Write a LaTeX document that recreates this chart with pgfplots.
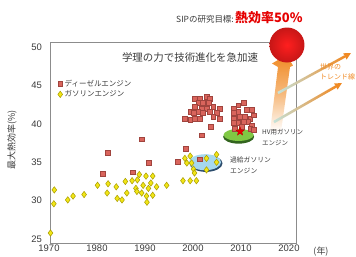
\documentclass[border=0pt]{standalone}
\usepackage{pgfplots}
\pgfplotsset{compat=1.18}
\usetikzlibrary{calc}
\usepackage{fontspec}
\setmainfont{Liberation Sans}
\newfontfamily\jp{Noto Sans CJK JP}
\definecolor{dfill}{HTML}{D9645C}
\definecolor{ddraw}{HTML}{A0443E}
\definecolor{gfill}{HTML}{F2E616}
\definecolor{gdraw}{HTML}{A89C00}
\definecolor{axgray}{HTML}{8C8C8C}
\definecolor{txt}{HTML}{3A3A3A}
\definecolor{org}{HTML}{F08A24}
\definecolor{tealish}{HTML}{C4E2DA}
\definecolor{bigred}{HTML}{D81818}
\definecolor{bluerim}{HTML}{2C4C6C}
\definecolor{bluefill}{HTML}{A6D8EF}
\definecolor{greenrim}{HTML}{32641E}
\definecolor{greenfill}{HTML}{80C844}
\pgfdeclareplotmark{fstar}{%
\pgfpathmoveto{\pgfpointpolar{90}{\pgfplotmarksize}}%
\pgfpathlineto{\pgfpointpolar{126}{0.42\pgfplotmarksize}}%
\pgfpathlineto{\pgfpointpolar{162}{\pgfplotmarksize}}%
\pgfpathlineto{\pgfpointpolar{198}{0.42\pgfplotmarksize}}%
\pgfpathlineto{\pgfpointpolar{234}{\pgfplotmarksize}}%
\pgfpathlineto{\pgfpointpolar{270}{0.42\pgfplotmarksize}}%
\pgfpathlineto{\pgfpointpolar{306}{\pgfplotmarksize}}%
\pgfpathlineto{\pgfpointpolar{342}{0.42\pgfplotmarksize}}%
\pgfpathlineto{\pgfpointpolar{18}{\pgfplotmarksize}}%
\pgfpathlineto{\pgfpointpolar{54}{0.42\pgfplotmarksize}}%
\pgfpathclose\pgfusepathqfillstroke}
\begin{document}
\begin{tikzpicture}
\begin{axis}[
  scale only axis, width=246bp, height=200bp,
  xmin=1970, xmax=2021.25, ymin=24.5, ymax=50.5,
  xtick={1970,1980,...,2020}, ytick={25,30,...,50},
  major tick length=0,
  axis line style={axgray, line width=1bp},
  /pgf/number format/assume math mode=true,
  /pgf/number format/1000 sep={},
  tick label style={font=\fontsize{9.5}{11}\selectfont, text=txt},
  yticklabel style={xshift=-4.5bp},
  xticklabel style={yshift=1.5bp, xshift=-1bp},
  legend style={draw=none, fill=none, at={(rel axis cs:0.027,0.83)}, anchor=north west,
    font=\jp\fontsize{7.5}{9}\selectfont, text=txt, row sep=-1.5bp, inner sep=1bp},
  legend cell align=left,
  clip=false,
]
% ellipses (behind)
\fill[bluerim] (axis cs:2002.5,34.85) ellipse [x radius=16.5bp, y radius=8.5bp];
\fill[bluefill] (axis cs:2002.3,35.0) ellipse [x radius=16bp, y radius=8bp];
\fill[greenrim] (axis cs:2009.3,38.3) ellipse [x radius=15.5bp, y radius=6.8bp];
\fill[greenfill] (axis cs:2009.3,38.55) ellipse [x radius=15bp, y radius=6bp];
\addplot[only marks, mark=square*, mark size=2.4bp, mark options={fill=dfill, draw=ddraw, line width=0.5bp}] coordinates {
(1981.0,33.5) (1982.0,36.2) (1987.2,33.7) (1989.1,38.0) (1990.6,34.9)
(1996.6,35.1) (1998.2,36.8) (2001.2,35.4) (2001.6,38.5) (2003.5,39.6)
(2000.2,43.3) (2001.25,43.3) (2002.6,43.5) (2003.3,43.3)
(2000.9,42.7) (2001.9,42.7) (2003.0,42.7)
(2000.2,42.2) (2001.6,42.0) (2002.6,42.0) (2004.0,42.2) (2005.4,42.0)
(1999.2,41.6) (1999.9,41.4) (2000.9,41.6) (2001.9,41.4) (2003.3,41.6) (2004.7,41.4)
(1998.1,40.7) (1999.2,40.5) (2000.2,40.7) (2001.25,40.7) (2004.0,40.9) (2005.4,40.7)
(2008.2,42.0) (2009.2,42.4) (2010.3,42.7)
(2008.2,41.4) (2009.2,41.6) (2011.0,41.8) (2012.0,41.8)
(2008.2,40.7) (2009.6,40.9) (2010.6,40.9) (2011.7,40.7) (2012.4,41.1)
(2008.2,40.1) (2009.2,40.1) (2010.3,40.3) (2011.3,40.3) (2012.0,39.8)
(2008.5,39.4) (2009.9,39.6) (2011.7,39.4) (2012.4,39.2)
};
\addlegendentry{ディーゼルエンジン}
\addplot[only marks, mark=diamond*, mark size=3.2bp, mark options={fill=gfill, draw=gdraw, line width=0.5bp}] coordinates {
(1970.1,25.8) (1970.9,31.4) (1970.8,29.6) (1973.7,30.1) (1974.8,30.6)
(1977.1,30.8) (1979.9,32.0) (1982.1,32.2) (1981.9,31.0) (1983.8,31.8)
(1984.0,30.3) (1985.0,30.1) (1985.7,32.5) (1986.0,31.0) (1987.1,32.6)
(1987.9,31.6) (1988.2,32.7) (1988.6,33.4) (1988.1,31.2) (1989.1,31.0)
(1989.4,32.0) (1990.0,33.2) (1990.1,30.6) (1990.2,29.8) (1990.5,31.6)
(1991.0,32.3) (1991.4,33.2) (1991.4,30.7) (1992.2,31.8) (1994.3,32.0)
(1997.7,32.6) (1998.1,35.5) (1998.5,34.9) (1999.2,35.8) (1999.2,32.6)
(1999.5,34.9) (1999.9,34.1) (2000.1,33.6) (2000.5,32.6) (2002.6,35.5)
(2002.6,34.0) (2004.7,36.0) (2004.7,35.0)
};
\addlegendentry{ガソリンエンジン}
\addplot[only marks, mark=fstar, mark size=4.5bp, mark options={fill=red!90!black, draw=red!70!black, line width=0.3bp}, forget plot] coordinates {(2009.6,39.0)};
\coordinate (TL) at (rel axis cs:0,1);
\end{axis}
\begin{scope}[shift={($(TL)+(-50bp,43bp)$)}, x=1bp, y=-1bp]
% fat arrow
\shade[top color=org, bottom color=white, middle color=org!60]
  (270,132) -- (278,67) -- (272,63.5) -- (286.5,55) -- (293,65.5) -- (290,67) -- (281,132) -- cycle;
% big circle
\shade[inner color=red!88!white, outer color=bigred!92!black] (287,45) circle [radius=17.5];
% thin arrows
\shade[left color=tealish, right color=org] (278.6,94.1) -- (277.4,91.9) -- (344.3,55.3) -- (345.5,57.5) -- cycle;
\fill[org] (346.6,59.5) -- (351,53) -- (343.2,53.3) -- cycle;
\shade[left color=tealish, right color=org] (274.65,123.1) -- (273.35,120.9) -- (335.25,85.4) -- (336.55,87.6) -- cycle;
\fill[org] (337.6,89.5) -- (342,83) -- (334.2,83.5) -- cycle;
% texts
\node[anchor=west, inner sep=0, font=\jp\fontsize{7}{8}\selectfont, text=org] at (320,67) {世界の};
\node[anchor=west, inner sep=0, font=\jp\fontsize{7}{8}\selectfont, text=org] at (320,77) {トレンド線};
\node[anchor=east, inner sep=0, font=\jp\fontsize{8.5}{10}\selectfont, text=txt] at (234,19) {SIPの研究目標:};
\node[anchor=west, inner sep=0, font=\jp\bfseries\fontsize{13}{15}\selectfont, text=red!90!black] at (235,18) {熱効率50\%};
\node[font=\jp\fontsize{10.5}{12}\selectfont, text=txt, inner sep=0] at (190,58) {学理の力で技術進化を急加速};
\node[anchor=west, inner sep=0, font=\jp\fontsize{6.5}{8}\selectfont, text=txt] at (262,132) {HV用ガソリン};
\node[anchor=west, inner sep=0, font=\jp\fontsize{6.5}{8}\selectfont, text=txt] at (262,143) {エンジン};
\node[anchor=west, inner sep=0, font=\jp\fontsize{6.8}{8}\selectfont, text=txt] at (230,160) {過給ガソリン};
\node[anchor=west, inner sep=0, font=\jp\fontsize{6.8}{8}\selectfont, text=txt] at (230,171) {エンジン};
\node[rotate=90, inner sep=0, font=\jp\fontsize{9}{10}\selectfont, text=txt] at (12,140) {最大熱効率(\%)};
\node[inner sep=0, font=\jp\fontsize{9}{10}\selectfont, text=txt] at (321,252) {(年)};
\pgfresetboundingbox
\path[use as bounding box] (0,0) rectangle (356,257);
\end{scope}
\end{tikzpicture}
\end{document}
